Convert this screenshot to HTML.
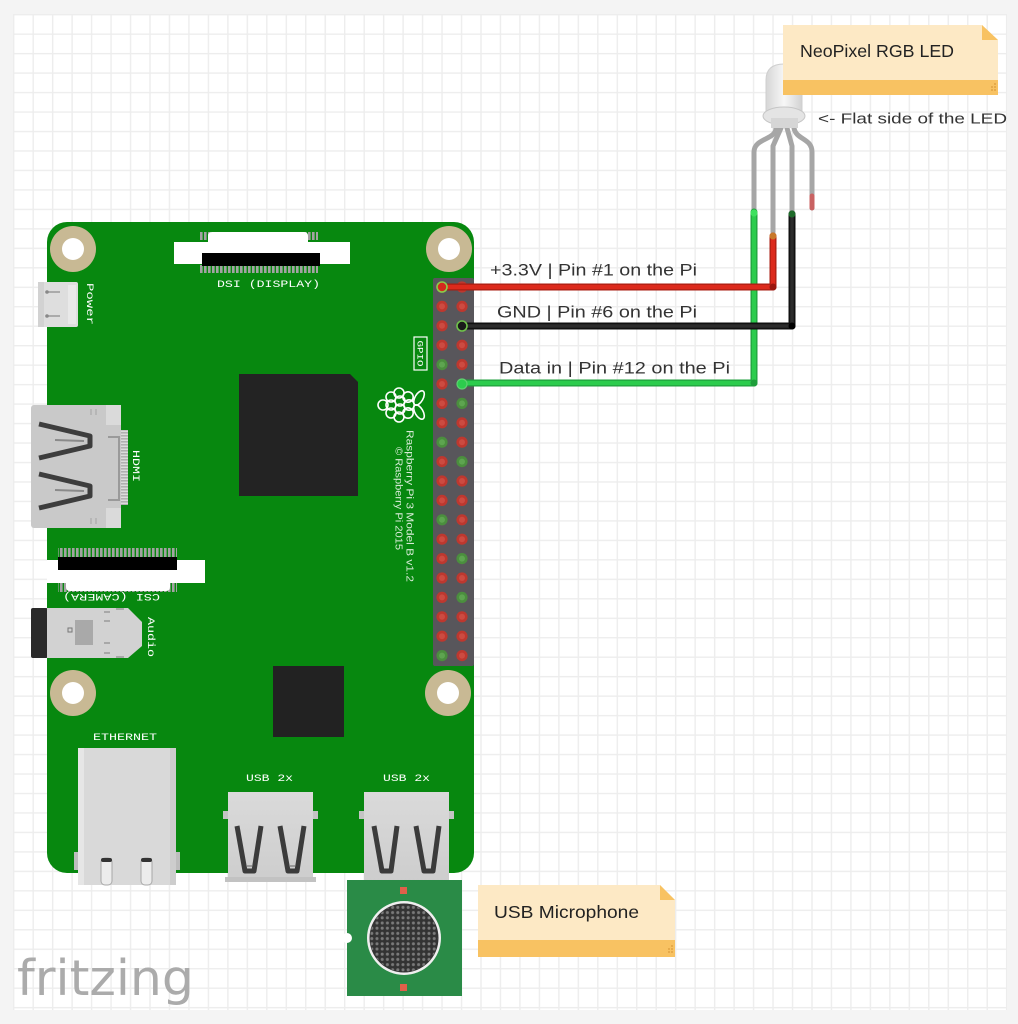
<!DOCTYPE html>
<html><head><meta charset="utf-8"><style>
html,body{margin:0;padding:0;background:#f4f4f4;}
svg{display:block;}
</style></head><body>
<svg width="1018" height="1024" viewBox="0 0 1018 1024" xmlns="http://www.w3.org/2000/svg">
<defs>
<pattern id="grid" x="13" y="14" width="19.47" height="19.47" patternUnits="userSpaceOnUse">
<path d="M0.7 0V19.47M0 0.7H19.47" stroke="#ededed" stroke-width="1.4" fill="none"/>
</pattern>
<pattern id="dots" x="0" y="0" width="5.2" height="5.2" patternUnits="userSpaceOnUse">
<circle cx="2.6" cy="2.6" r="1.5" fill="#7a7a7a"/>
</pattern>
<pattern id="pinsH" x="0" y="0" width="4" height="10" patternUnits="userSpaceOnUse"><rect width="2.6" height="10" fill="#a3a3a3"/></pattern>
<pattern id="pinsV" x="0" y="0" width="10" height="3" patternUnits="userSpaceOnUse"><rect width="10" height="1.6" fill="#b0b0b0"/></pattern>
<clipPath id="micclip"><circle cx="404" cy="938" r="34"/></clipPath>
<linearGradient id="ledg" x1="0" x2="1" y1="0" y2="0"><stop offset="0" stop-color="#d6d6d6"/><stop offset=".5" stop-color="#f7f7f7"/><stop offset="1" stop-color="#d2d2d2"/></linearGradient>
<linearGradient id="usbg" x1="0" x2="0" y1="0" y2="1"><stop offset="0" stop-color="#dadada"/><stop offset="1" stop-color="#cdcdcd"/></linearGradient>
<g id="pr"><circle r="5.6" fill="#bd382f"/><circle r="3" fill="#cc4b41"/></g>
<g id="pg"><circle r="5.6" fill="#4b8e3e"/><circle r="3" fill="#5ea450"/></g>
</defs>

<rect width="1018" height="1024" fill="#f4f4f4"/>
<rect x="13" y="14" width="994" height="996" fill="#ffffff"/>
<rect x="13" y="14" width="994" height="996" fill="url(#grid)"/>

<rect x="47" y="222" width="427" height="651" rx="20" fill="#07880f"/>

<g fill="#c8b994">
<circle cx="73" cy="249" r="23"/><circle cx="449" cy="249" r="23"/>
<circle cx="73" cy="693" r="23"/><circle cx="448" cy="693" r="23"/>
</g>
<g fill="#ffffff">
<circle cx="73" cy="249" r="11"/><circle cx="449" cy="249" r="11"/>
<circle cx="73" cy="693" r="11"/><circle cx="448" cy="693" r="11"/>
</g>

<rect x="200" y="232" width="118" height="8" fill="url(#pinsH)"/>
<rect x="200" y="265" width="118" height="8" fill="url(#pinsH)"/>
<rect x="174" y="242" width="176" height="22" fill="#ffffff"/>
<path d="M208,243 V236 Q208,232 212,232 H304 Q308,232 308,236 V243Z" fill="#ffffff"/>
<rect x="202" y="253" width="118" height="13" fill="#000000"/>
<text x="217" y="287" font-family="Liberation Mono, DejaVu Sans Mono, monospace" font-size="10.5" fill="#ffffff" textLength="103" lengthAdjust="spacingAndGlyphs">DSI (DISPLAY)</text>

<rect x="38" y="282" width="40" height="45" rx="2" fill="#dedede"/>
<rect x="68" y="285" width="8" height="39" fill="#e9e9e9"/>
<rect x="38" y="282" width="6" height="45" fill="#d2d2d2"/>
<path d="M46,292 H60 M46,316 H60" stroke="#9a9a9a" stroke-width="1.6"/>
<circle cx="47" cy="292" r="1.8" fill="#888"/><circle cx="47" cy="316" r="1.8" fill="#888"/>
<text transform="translate(87,283) rotate(90)" font-family="Liberation Mono, DejaVu Sans Mono, monospace" font-size="10.5" fill="#ffffff" textLength="42" lengthAdjust="spacingAndGlyphs">Power</text>

<rect x="120" y="430" width="8" height="75" fill="#dcdcdc"/>
<rect x="120" y="430" width="8" height="75" fill="url(#pinsV)"/>
<rect x="31" y="405" width="90" height="123" rx="3" fill="#c9c9c9"/>
<rect x="106" y="405" width="15" height="20" fill="#dadada"/>
<rect x="106" y="508" width="15" height="20" fill="#dadada"/>
<path d="M108,437 H119 V500 H108" stroke="#9a9a9a" stroke-width="2" fill="none"/>
<path d="M91,409 V415 M96,409 V415 M91,518 V524 M96,518 V524" stroke="#aaa" stroke-width="1.2"/>
<path d="M39,424 L90,436 V446 L39,458" stroke="#3d3d3d" stroke-width="5" fill="none" stroke-linejoin="round"/>
<path d="M39,474 L90,486 V496 L39,508" stroke="#3d3d3d" stroke-width="5" fill="none" stroke-linejoin="round"/>
<path d="M55,440 L84,441 M55,490 L84,491" stroke="#8a8a8a" stroke-width="2"/>
<text transform="translate(133,450) rotate(90)" font-family="Liberation Mono, DejaVu Sans Mono, monospace" font-size="10.5" fill="#ffffff" textLength="32" lengthAdjust="spacingAndGlyphs">HDMI</text>

<rect x="58" y="548" width="119" height="9" fill="url(#pinsH)"/>
<rect x="58" y="583" width="119" height="9" fill="url(#pinsH)"/>
<rect x="47" y="560" width="158" height="23" fill="#ffffff"/>
<path d="M66,582 V587 Q66,591 70,591 H166 Q170,591 170,587 V582Z" fill="#ffffff"/>
<rect x="58" y="557" width="119" height="13" fill="#000000"/>
<text transform="translate(160,594) rotate(180)" font-family="Liberation Mono, DejaVu Sans Mono, monospace" font-size="10.5" fill="#ffffff" textLength="97" lengthAdjust="spacingAndGlyphs">CSI (CAMERA)</text>

<rect x="31" y="608" width="17" height="50" rx="2" fill="#2a2a2a"/>
<path d="M47,608 H128 L142,622 V646 L128,658 H47Z" fill="#d2d2d2"/>
<rect x="75" y="620" width="18" height="25" fill="#a9a9a9"/>
<rect x="68" y="628" width="4" height="4" fill="none" stroke="#777" stroke-width="1"/>
<path d="M104,612 H110 M104,621 H110 M104,643 H110 M104,653 H110 M116,609 H124 M116,657 H124" stroke="#999" stroke-width="1.4"/>
<text transform="translate(148,617) rotate(90)" font-family="Liberation Mono, DejaVu Sans Mono, monospace" font-size="10.5" fill="#ffffff" textLength="40" lengthAdjust="spacingAndGlyphs">Audio</text>

<path d="M239,374 H350 L358,382 V496 H239Z" fill="#232323"/>
<rect x="273" y="666" width="71" height="71" fill="#222222"/>

<rect x="433" y="278" width="41" height="388" rx="2" fill="#58565b"/>
<use href="#pr" x="462" y="287"/>
<use href="#pr" x="442" y="306.4"/><use href="#pr" x="462" y="306.4"/>
<use href="#pr" x="442" y="325.8"/>
<use href="#pr" x="442" y="345.2"/><use href="#pr" x="462" y="345.2"/>
<use href="#pg" x="442" y="364.6"/><use href="#pr" x="462" y="364.6"/>
<use href="#pr" x="442" y="384"/>
<use href="#pr" x="442" y="403.4"/><use href="#pg" x="462" y="403.4"/>
<use href="#pr" x="442" y="422.8"/><use href="#pr" x="462" y="422.8"/>
<use href="#pg" x="442" y="442.2"/><use href="#pr" x="462" y="442.2"/>
<use href="#pr" x="442" y="461.6"/><use href="#pg" x="462" y="461.6"/>
<use href="#pr" x="442" y="481"/><use href="#pr" x="462" y="481"/>
<use href="#pr" x="442" y="500.4"/><use href="#pr" x="462" y="500.4"/>
<use href="#pg" x="442" y="519.8"/><use href="#pr" x="462" y="519.8"/>
<use href="#pr" x="442" y="539.2"/><use href="#pr" x="462" y="539.2"/>
<use href="#pr" x="442" y="558.6"/><use href="#pg" x="462" y="558.6"/>
<use href="#pr" x="442" y="578"/><use href="#pr" x="462" y="578"/>
<use href="#pr" x="442" y="597.4"/><use href="#pg" x="462" y="597.4"/>
<use href="#pr" x="442" y="616.8"/><use href="#pr" x="462" y="616.8"/>
<use href="#pr" x="442" y="636.2"/><use href="#pr" x="462" y="636.2"/>
<use href="#pg" x="442" y="655.6"/><use href="#pr" x="462" y="655.6"/>

<rect x="414" y="337" width="13" height="33" fill="none" stroke="#ffffff" stroke-width="1.2"/>
<text transform="translate(417.3,340.5) rotate(90)" font-family="Liberation Mono, DejaVu Sans Mono, monospace" font-size="8.5" fill="#ffffff" textLength="26" lengthAdjust="spacingAndGlyphs">GPIO</text>

<g transform="translate(400,405) rotate(90)" stroke="#ffffff" fill="none" stroke-width="1.6">
<ellipse cx="-7" cy="-19" rx="8" ry="4" transform="rotate(30 -7 -19)"/>
<ellipse cx="7" cy="-19" rx="8" ry="4" transform="rotate(-30 7 -19)"/>
<circle cx="-8" cy="-8" r="5.2"/><circle cx="0" cy="-9" r="5.2"/><circle cx="8" cy="-8" r="5.2"/>
<circle cx="-12" cy="1" r="5"/><circle cx="-4" cy="0" r="5"/><circle cx="4" cy="0" r="5"/><circle cx="12" cy="1" r="5"/>
<circle cx="-8" cy="9" r="5"/><circle cx="0" cy="9" r="5"/><circle cx="8" cy="9" r="5"/>
<circle cx="0" cy="17" r="5"/>
</g>
<text transform="translate(406.5,430) rotate(90)" font-family="Liberation Sans, sans-serif" font-size="10.5" fill="#d8ecd8" textLength="152" lengthAdjust="spacingAndGlyphs">Raspberry Pi 3 Model B v1.2</text>
<text transform="translate(395.5,447) rotate(90)" font-family="Liberation Sans, sans-serif" font-size="10.5" fill="#d8ecd8" textLength="103" lengthAdjust="spacingAndGlyphs">© Raspberry Pi 2015</text>

<rect x="74" y="852" width="5" height="18" fill="#bdbdbd"/>
<rect x="175" y="852" width="5" height="18" fill="#bdbdbd"/>
<rect x="78" y="748" width="98" height="137" fill="#d9d9d9"/>
<rect x="78" y="748" width="6" height="137" fill="#e6e6e6"/>
<rect x="170" y="748" width="6" height="137" fill="#cdcdcd"/>
<rect x="101" y="858" width="11" height="27" rx="4" fill="#ececec" stroke="#a8a8a8" stroke-width="1"/>
<rect x="101" y="858" width="11" height="4" rx="2" fill="#333"/>
<rect x="141" y="858" width="11" height="27" rx="4" fill="#ececec" stroke="#a8a8a8" stroke-width="1"/>
<rect x="141" y="858" width="11" height="4" rx="2" fill="#333"/>
<text x="93" y="740" font-family="Liberation Mono, DejaVu Sans Mono, monospace" font-size="10.5" fill="#ffffff" textLength="64" lengthAdjust="spacingAndGlyphs">ETHERNET</text>

<rect x="223" y="811" width="6" height="8" fill="#c4c4c4"/>
<rect x="312" y="811" width="6" height="8" fill="#c4c4c4"/>
<rect x="228" y="792" width="85" height="90" fill="url(#usbg)"/>
<rect x="225" y="877" width="91" height="5" fill="#c2c2c2"/>
<path d="M237,826 L245,871 H254 L261,826" stroke="#3b3b3b" stroke-width="5" fill="none" stroke-linejoin="round"/>
<path d="M280,826 L288,871 H297 L304,826" stroke="#3b3b3b" stroke-width="5" fill="none" stroke-linejoin="round"/>
<path d="M247,866 H252 M290,866 H295" stroke="#9a9a9a" stroke-width="2"/>
<text x="246" y="781" font-family="Liberation Mono, DejaVu Sans Mono, monospace" font-size="10.5" fill="#ffffff" textLength="47" lengthAdjust="spacingAndGlyphs">USB 2x</text>

<rect x="359" y="811" width="6" height="8" fill="#c4c4c4"/>
<rect x="448" y="811" width="6" height="8" fill="#c4c4c4"/>
<rect x="364" y="792" width="85" height="90" fill="url(#usbg)"/>
<path d="M374,826 L382,871 H391 L397,826" stroke="#3b3b3b" stroke-width="5" fill="none" stroke-linejoin="round"/>
<path d="M416,826 L424,871 H433 L439,826" stroke="#3b3b3b" stroke-width="5" fill="none" stroke-linejoin="round"/>
<text x="383" y="781" font-family="Liberation Mono, DejaVu Sans Mono, monospace" font-size="10.5" fill="#ffffff" textLength="47" lengthAdjust="spacingAndGlyphs">USB 2x</text>

<rect x="347" y="880" width="115" height="116" fill="#2a8b47"/>
<circle cx="347" cy="938" r="5" fill="#ffffff"/>
<rect x="400" y="887" width="7" height="7" fill="#e0604a"/>
<rect x="400" y="984" width="7" height="7" fill="#e0604a"/>
<circle cx="404" cy="938" r="37" fill="#efefef"/>
<circle cx="404" cy="938" r="34.5" fill="#333333"/>
<rect x="368" y="902" width="72" height="72" fill="url(#dots)" clip-path="url(#micclip)"/>

<g fill="none" stroke="#a6a6a6" stroke-width="5" stroke-linecap="round" stroke-linejoin="round">
<path d="M776,128 C776,140 754,138 754,152 V214"/>
<path d="M781,128 L773,146 V232"/>
<path d="M787,128 L792,146 V214"/>
<path d="M794,128 C796,140 812,138 812,152 V208"/>
</g>
<path d="M812,196 V208" stroke="#c86262" stroke-width="5" stroke-linecap="round"/>

<path d="M766,116 V80 Q766,64 784,64 Q802,64 802,80 V116Z" fill="url(#ledg)" stroke="#cfcfcf" stroke-width="1"/>
<ellipse cx="784" cy="116" rx="21" ry="9" fill="#e4e4e4" stroke="#c6c6c6" stroke-width="1"/>
<rect x="771" y="118" width="27" height="10" fill="#d6d6d6"/>

<g fill="none" stroke-linecap="round" stroke-linejoin="round">
<path d="M754,212 V383 H462" stroke="#1f9f3c" stroke-width="7"/>
<path d="M754,212 V383 H462" stroke="#2ccc4d" stroke-width="4.5"/>
<path d="M773,236 V287 H442" stroke="#a81c12" stroke-width="7"/>
<path d="M773,236 V287 H442" stroke="#dc2a1c" stroke-width="4.5"/>
<path d="M792,214 V326 H462" stroke="#111111" stroke-width="7"/>
<path d="M792,214 V326 H462" stroke="#2c2c2c" stroke-width="3.5"/>
</g>
<circle cx="773" cy="236" r="3.5" fill="#c8782a"/>
<circle cx="754" cy="213" r="3.5" fill="#3ee05e"/>
<circle cx="792" cy="214" r="3.5" fill="#1f6a2a"/>
<circle cx="773" cy="287" r="3.5" fill="#9a160e"/>
<circle cx="792" cy="326" r="3.5" fill="#000"/>
<circle cx="754" cy="383" r="3.5" fill="#1e9e3a"/>
<circle cx="442" cy="287" r="5" fill="#d42a1e" stroke="#8acd4a" stroke-width="1.6"/>
<circle cx="462" cy="326" r="5" fill="#1a1a1a" stroke="#6fc24a" stroke-width="1.6"/>
<circle cx="462" cy="384" r="5" fill="#2ccc4d" stroke="#5fd070" stroke-width="1.2"/>

<g font-family="Liberation Sans, sans-serif" font-size="17" fill="#333333">
<text x="490" y="275.5" textLength="207" lengthAdjust="spacingAndGlyphs">+3.3V | Pin #1 on the Pi</text>
<text x="497" y="317.3" textLength="200" lengthAdjust="spacingAndGlyphs">GND | Pin #6 on the Pi</text>
<text x="499" y="373.3" textLength="231" lengthAdjust="spacingAndGlyphs">Data in | Pin #12 on the Pi</text>
<text x="818" y="123.5" font-size="15" textLength="189" lengthAdjust="spacingAndGlyphs">&lt;- Flat side of the LED</text>
</g>

<path d="M783,25 H982 L998,40 V95 H783Z" fill="#fde9c5"/>
<rect x="783" y="80" width="215" height="15" fill="#f8c262"/>
<path d="M982,25 L998,40 H982Z" fill="#f8c262"/>
<g fill="#d99a3a"><circle cx="992" cy="90" r="0.9"/><circle cx="995" cy="90" r="0.9"/><circle cx="995" cy="87" r="0.9"/><circle cx="992" cy="87" r="0.9"/><circle cx="995" cy="84" r="0.9"/></g>
<text x="800" y="57" font-family="Liberation Sans, sans-serif" font-size="17.5" fill="#222222" textLength="154" lengthAdjust="spacingAndGlyphs">NeoPixel RGB LED</text>

<path d="M478,885 H660 L675,900 V957 H478Z" fill="#fde9c5"/>
<rect x="478" y="940" width="197" height="17" fill="#f8c262"/>
<path d="M660,885 L675,900 H660Z" fill="#f8c262"/>
<g fill="#d99a3a"><circle cx="669" cy="952" r="0.9"/><circle cx="672" cy="952" r="0.9"/><circle cx="672" cy="949" r="0.9"/><circle cx="669" cy="949" r="0.9"/><circle cx="672" cy="946" r="0.9"/></g>
<text x="494" y="918" font-family="Liberation Sans, sans-serif" font-size="17.5" fill="#222222" textLength="145" lengthAdjust="spacingAndGlyphs">USB Microphone</text>

<text x="17" y="995" font-family="DejaVu Sans, sans-serif" font-size="49" fill="#ababab" textLength="177" lengthAdjust="spacingAndGlyphs">fritzing</text>
</svg>
</body></html>
